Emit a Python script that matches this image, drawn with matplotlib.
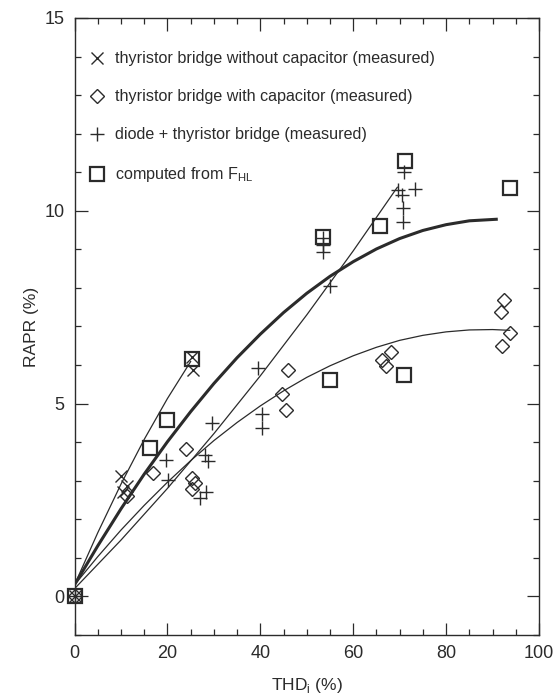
import matplotlib
matplotlib.use("Agg")
import matplotlib.pyplot as plt
from matplotlib.ticker import MultipleLocator
from matplotlib.lines import Line2D

plt.rcParams['font.family'] = ['Liberation Sans', 'DejaVu Sans']
plt.rcParams['mathtext.fontset'] = 'custom'
plt.rcParams['mathtext.rm'] = 'Liberation Sans'

# ---- data ----
x_thd = [0, 10.1, 11.2, 10.5, 25.2, 25.5]
x_rapr = [0, 3.12, 2.86, 2.70, 6.20, 5.88]

d_thd = [0, 11.2, 17.0, 24.1, 25.2, 25.9, 25.2, 44.6, 45.5, 46.0,
         66.1, 67.0, 68.1, 91.9, 92.4, 92.1, 93.8]
d_rapr = [0, 2.60, 3.21, 3.81, 3.07, 2.94, 2.79, 5.26, 4.84, 5.86,
          6.14, 5.97, 6.33, 7.37, 7.69, 6.49, 6.83]

p_thd = [0, 19.8, 20.2, 28.1, 28.8, 28.4, 27.0, 29.5, 39.5, 40.3, 40.3,
         53.5, 53.6, 53.5, 54.9, 71.0, 69.6, 73.2, 70.4, 70.7, 70.7]
p_rapr = [0, 3.55, 3.03, 3.66, 3.50, 2.72, 2.56, 4.49, 5.92, 4.72, 4.38,
          9.30, 9.12, 8.93, 8.04, 11.00, 10.54, 10.56, 10.42, 10.07, 9.72]

s_thd = [0, 16.2, 20.0, 25.2, 53.5, 54.9, 65.8, 71.1, 70.9, 93.7]
s_rapr = [0, 3.86, 4.57, 6.16, 9.33, 5.62, 9.61, 11.28, 5.75, 10.6]

# fitted curves
fx_thd = [0, 5, 10, 15, 20, 25]
fx_rapr = [0.30, 1.65, 2.91, 4.07, 5.13, 6.09]

fd_thd = [0, 5, 10, 15, 20, 25, 30, 35, 40, 45, 50, 55, 60, 65, 70, 75, 80, 85, 90, 93.7]
fd_rapr = [0.30, 1.03, 1.72, 2.36, 2.96, 3.52, 4.04, 4.51, 4.94, 5.33, 5.68,
           5.98, 6.24, 6.46, 6.64, 6.77, 6.86, 6.91, 6.92, 6.90]

fp_thd = [0, 10, 20, 30, 40, 50, 60, 69.5]
fp_rapr = [0.20, 1.46, 2.80, 4.22, 5.72, 7.30, 8.96, 10.61]

fh_thd = [0, 5, 10, 15, 20, 25, 30, 35, 40, 45, 50, 55, 60, 65, 70, 75, 80, 85, 90.8]
fh_rapr = [0.30, 1.31, 2.27, 3.17, 4.01, 4.79, 5.52, 6.19, 6.80, 7.36, 7.86,
           8.30, 8.68, 9.01, 9.28, 9.49, 9.64, 9.74, 9.78]

labels = ['thyristor bridge without capacitor (measured)',
          'thyristor bridge with capacitor (measured)',
          'diode + thyristor bridge (measured)',
          r'computed from F$_{\mathregular{HL}}$']

col = '#2b2b2b'

fig = plt.figure(figsize=(5.59, 6.97), dpi=100)
ax = fig.add_axes([0.1333, 0.0890, 0.8309, 0.8852])

ax.plot(fx_thd, fx_rapr, color=col, lw=0.9)
ax.plot(fd_thd, fd_rapr, color=col, lw=0.9)
ax.plot(fp_thd, fp_rapr, color=col, lw=0.9)
ax.plot(fh_thd, fh_rapr, color=col, lw=2.2)

ax.plot(x_thd, x_rapr, ls='none', marker='x', ms=9, mew=1.0, color=col, clip_on=False)
ax.plot(d_thd, d_rapr, ls='none', marker='D', ms=7.5, mew=1.0, mfc='none', mec=col, clip_on=False)
ax.plot(p_thd, p_rapr, ls='none', marker='+', ms=10, mew=1.0, color=col, clip_on=False)
ax.plot(s_thd, s_rapr, ls='none', marker='s', ms=10, mew=1.6, mfc='none', mec=col, clip_on=False)

handles = [Line2D([], [], ls='none', marker='x', ms=9, mew=1.0, color=col),
           Line2D([], [], ls='none', marker='D', ms=7.5, mew=1.0, mfc='none', mec=col),
           Line2D([], [], ls='none', marker='+', ms=10, mew=1.0, color=col),
           Line2D([], [], ls='none', marker='s', ms=10, mew=1.6, mfc='none', mec=col)]
leg = ax.legend(handles, labels, loc='upper left', bbox_to_anchor=(0.028, 0.946),
                frameon=False, fontsize=11.6, labelspacing=1.43, handlelength=1.2,
                handletextpad=0.52, borderaxespad=0, borderpad=0)
for t in leg.get_texts():
    t.set_color(col)

ax.set_xlim(0, 100)
ax.set_ylim(-1, 15)
ax.xaxis.set_major_locator(MultipleLocator(20))
ax.xaxis.set_minor_locator(MultipleLocator(5))
ax.yaxis.set_major_locator(MultipleLocator(5))
ax.yaxis.set_minor_locator(MultipleLocator(1))
ax.tick_params(which='both', direction='in', top=True, right=True, colors=col,
               labelsize=13, width=0.9)
ax.tick_params(which='major', length=9, pad=7)
ax.tick_params(which='minor', length=4)
for sp in ax.spines.values():
    sp.set_color(col)
    sp.set_linewidth(1.0)

ax.set_xlabel(r'THD$_{\mathregular{i}}$ (%)', fontsize=12.5, color=col, labelpad=10)
ax.set_ylabel('RAPR (%)', fontsize=12.5, color=col, labelpad=4)

fig.savefig('out.png', dpi=100)
